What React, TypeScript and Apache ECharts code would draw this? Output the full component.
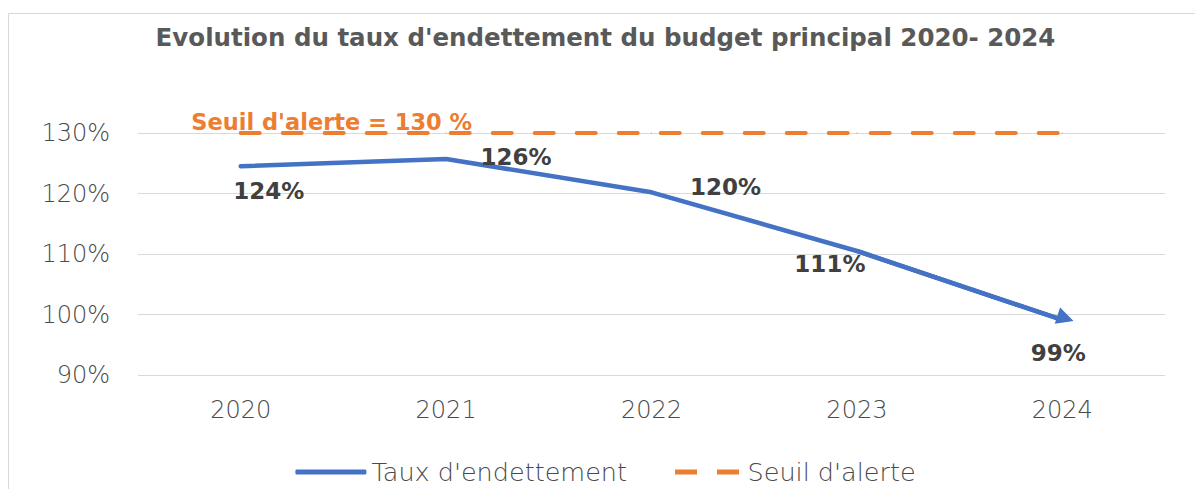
import React, { useEffect, useRef } from "react";
import * as echarts from "echarts";

const categories = ["2020", "2021", "2022", "2023", "2024"];
const tauxValues = [124.5, 125.7, 120.2, 110.5, 99.1];
const tauxLabels = ["124%", "126%", "120%", "111%", "99%"];
const seuilValues = [130, 130, 130, 130, 130];
const seuilLabel = "Seuil d'alerte = 130 %";
const titleText = "Evolution du taux d'endettement du budget principal 2020- 2024";

const FONT = "'DejaVu Sans', sans-serif";
const labelOffsets: [number, number][] = [
  [28, 25],
  [70, -2],
  [74, -5],
  [-27, 13],
  [-4, 33],
];

export default function App() {
  const ref = useRef<HTMLDivElement>(null);
  useEffect(() => {
    if (!ref.current) return;
    const chart = echarts.init(ref.current, undefined, { renderer: "svg" });
    chart.setOption({
      animation: false,
      backgroundColor: "#ffffff",
      textStyle: { fontFamily: FONT },
      title: {
        text: titleText,
        left: "center",
        top: 12,
        textStyle: { fontFamily: FONT, fontSize: 24.5, fontWeight: "bold", color: "#595959" },
      },
      graphic: [
        {
          type: "rect",
          shape: { x: 0.5, y: 5.5, width: 1400, height: 800 },
          style: { fill: "none", stroke: "#d9d9d9", lineWidth: 1 },
          silent: true,
        },
      ],
      grid: { left: 130, right: 38, top: 125, bottom: 114 },
      legend: {
        top: 446,
        left: "center",
        itemWidth: 71,
        itemHeight: 5,
        itemGap: 48,
        textStyle: { fontFamily: FONT, fontSize: 25.5, fontWeight: 300, color: "#4a4a4a" },
        data: [
          { name: "Taux d'endettement", icon: "roundRect" },
          { name: "Seuil d'alerte", icon: "path://M0,0h22v5h-22z M42,0h22v5h-22z" },
        ],
      },
      xAxis: {
        type: "category",
        data: categories,
        boundaryGap: true,
        axisLine: { show: false },
        axisTick: { show: false },
        axisLabel: { fontFamily: FONT, fontSize: 24, fontWeight: 300, color: "#4a4a4a", margin: 23 },
      },
      yAxis: {
        type: "value",
        min: 90,
        max: 130,
        interval: 10,
        axisLine: { show: false },
        axisTick: { show: false },
        axisLabel: { fontFamily: FONT, fontSize: 24, fontWeight: 300, color: "#4a4a4a", margin: 28, formatter: "{value}%" },
        splitLine: { lineStyle: { color: "#d9d9d9", width: 1 } },
      },
      series: [
        {
          name: "Seuil d'alerte",
          type: "line",
          data: seuilValues.map((v, i) =>
            i === 0
              ? {
                  value: v,
                  label: {
                    show: true,
                    position: "top",
                    offset: [91, 6],
                    formatter: seuilLabel,
                    fontFamily: FONT,
                    fontSize: 22.5,
                    fontWeight: "bold",
                    color: "#ED7D31",
                  },
                }
              : v
          ),
          symbol: "circle",
          symbolSize: 1,
          lineStyle: { color: "#ED7D31", width: 4, type: [19, 23], cap: "round" },
          itemStyle: { color: "#ED7D31" },
          z: 2,
        },
        {
          name: "Taux d'endettement",
          type: "line",
          data: tauxValues.map((v, i) => ({
            value: v,
            label: {
              show: true,
              position: "inside",
              offset: labelOffsets[i],
              formatter: tauxLabels[i],
              fontFamily: FONT,
              fontSize: 23,
              fontWeight: "bold",
              color: "#404040",
            },
          })),
          symbol: "circle",
          symbolSize: 1,
          lineStyle: { color: "#4472C4", width: 4.5, cap: "round", join: "round" },
          itemStyle: { color: "#4472C4" },
          z: 3,
          markLine: {
            silent: true,
            symbol: ["none", "triangle"],
            symbolSize: [17, 17],
            symbolOffset: [-7.5, -2.5],
            label: { show: false },
            lineStyle: { color: "#4472C4", width: 4.5, type: "solid" },
            data: [
              [
                { coord: [categories[3], tauxValues[3]] },
                { coord: [categories[4], tauxValues[4]] },
              ],
            ],
          },
        },
      ],
    });
    return () => chart.dispose();
  }, []);
  return <div ref={ref} style={{ width: 1195, height: 481 }} />;
}
